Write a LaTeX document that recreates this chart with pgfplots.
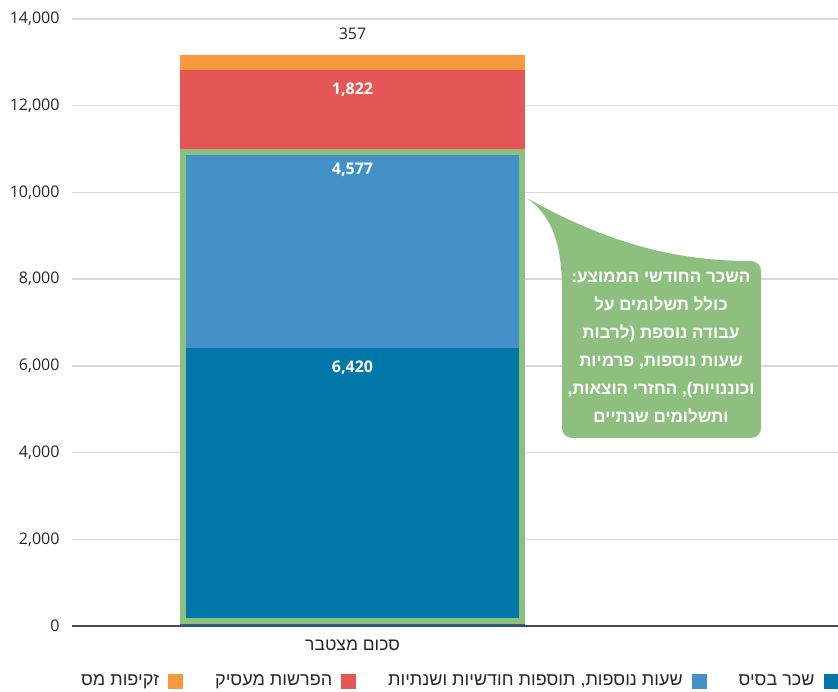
\documentclass[border=0pt]{standalone}
\usepackage{pgfplots}
\pgfplotsset{compat=1.18}
\usepackage{fontspec}
\setmainfont{Open Sans}
\newfontfamily\heb[Script=Hebrew]{Liberation Sans}
\TeXXeTstate=1
\definecolor{cDark}{HTML}{0077A8}
\definecolor{cLight}{HTML}{4292C9}
\definecolor{cRed}{HTML}{E45756}
\definecolor{cOrange}{HTML}{F7993C}
\definecolor{cGreen}{HTML}{8DBF7F}
\pgfkeys{/pgf/number format/.cd, 1000 sep={,}, assume math mode=true}
\begin{document}
\begin{tikzpicture}
\begin{axis}[
  scale only axis, width=766pt, height=607pt,
  xmin=-0.813, xmax=1.407, ymin=0, ymax=14000,
  ybar stacked, bar width=345pt,
  axis lines*=left,
  y axis line style={draw=none},
  x axis line style={draw=black!70, line width=1.5pt, -},
  ymajorgrids, grid style={draw=black!15, line width=1.5pt},
  major tick length=0pt,
  ytick={0,2000,...,14000},
  scaled y ticks=false,
  yticklabel style={font=\fontsize{16}{19}\selectfont, text=black!85, xshift=-9pt, /pgf/number format/1000 sep={,}, /pgf/number format/assume math mode=true},
  xtick={0}, xticklabels={{\beginR סכום מצטבר\endR}},
  xticklabel style={font=\heb\fontsize{17.5}{20}\selectfont, text=black!85, yshift=-10pt},
  visualization depends on=rawy\as\rawy,
  nodes near coords={\pgfmathprintnumber{\rawy}},
  every node near coord/.append style={font=\bfseries\fontsize{16}{19}\selectfont, text=white, anchor=center},
  reverse legend,
  legend plot pos=right,
  legend columns=4,
  legend image code/.code={\fill[#1] (0pt,-7.5pt) rectangle (15pt,7.5pt);},
  legend style={draw=none, fill=none, at={(axis description cs:0.505,-0.0906)}, anchor=center,
    font=\heb\fontsize{18}{21}\selectfont, text=black!85,
    /tikz/every odd column/.append style={column sep=7pt},
    /tikz/every even column/.append style={column sep=30pt}},
]
\addplot[fill=cDark, draw=none, every node near coord/.append style={yshift=118.7pt}] coordinates {(0,6420)};
\addlegendentry{\beginR שכר בסיס\endR}
\addplot[fill=cLight, draw=none, every node near coord/.append style={yshift=78.2pt}] coordinates {(0,4577)};
\addlegendentry{\beginR שעות נוספות, תוספות חודשיות ושנתיות\endR}
\addplot[fill=cRed, draw=none, every node near coord/.append style={yshift=19.5pt}] coordinates {(0,1822)};
\addlegendentry{\beginR הפרשות מעסיק\endR}
\addplot[fill=cOrange, draw=none, every node near coord/.append style={yshift=29pt, text=black!85, font=\fontsize{16}{19}\selectfont}] coordinates {(0,357)};
\addlegendentry{\beginR זקיפות מס\endR}
\coordinate (g1) at (axis cs:-0.5,0);
\coordinate (g2) at (axis cs:0.5,10997);
\end{axis}
\draw[cGreen, line width=6pt] ([xshift=3pt,yshift=5pt]g1) rectangle ([xshift=-3pt,yshift=-3pt]g2);
\draw[black!70, line width=1.5pt] (0,0) -- (766pt,0);
\begin{scope}[x=1pt,y=-1pt,shift={(-72pt,626pt)}]
\fill[cGreen] (527,198) .. controls (610,245) and (680,261) .. (750,261) [rounded corners=10pt] -- (761,261) -- (761,438) -- (562,438) -- (562,300) [sharp corners] -- (562,290) .. controls (562,240) and (550,215) .. (527,198) -- cycle;
\node[text=white, font=\heb\bfseries\fontsize{17}{28}\selectfont, align=center] at (661,348)
  {\beginR השכר החודשי הממוצע:\endR\\
   \beginR כולל תשלומים על\endR\\
   \beginR עבודה נוספת (לרבות\endR\\
   \beginR שעות נוספות, פרמיות\endR\\
   \beginR וכוננויות), החזרי הוצאות,\endR\\
   \beginR ותשלומים שנתיים\endR};
\end{scope}
\pgfresetboundingbox
\path[use as bounding box] (-72pt,-65pt) rectangle (766pt,626pt);
\end{tikzpicture}
\end{document}
